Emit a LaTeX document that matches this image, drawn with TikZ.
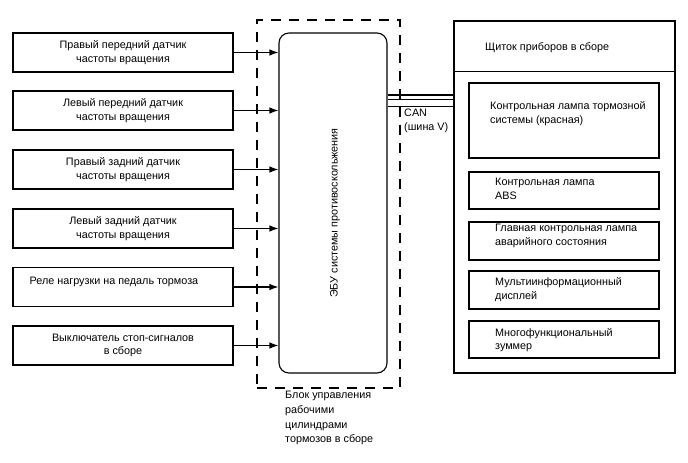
\documentclass[tikz,border=0pt]{standalone}
\usepackage{fontspec}
\setmainfont{Liberation Sans}
\usetikzlibrary{arrows.meta}
\begin{document}
\begin{tikzpicture}[x=1bp,y=-1bp,
  txt/.style={font=\fontsize{10.8bp}{13.5bp}\selectfont},
  sbox/.style={draw, line width=1.1bp, txt, align=center, inner sep=0pt, minimum width=220bp, minimum height=39bp},
  ibox/.style={draw, line width=1.1bp, inner sep=0pt, minimum width=190bp},
  ltxt/.style={txt, align=left, anchor=west, inner sep=0pt},
  arr/.style={-{Latex[length=9bp,width=6.5bp]}, line width=1.1bp},
  canline/.style={line width=1.3bp}]
\useasboundingbox (0,0) rectangle (688,463);

% dashed block
\node[draw, line width=1.1bp, dash pattern=on 10bp off 8bp, minimum width=143bp, minimum height=368bp, inner sep=0pt] (blk) at (328.5,204) {};
% ECU
\node[draw, line width=1.1bp, rounded corners=10bp, minimum width=108bp, minimum height=340bp, inner sep=0pt] (ecu) at (333,203) {};
\node[txt, rotate=90, inner sep=0pt] (ecut) at (335,213) {ЭБУ системы противоскольжения};
\node[align=left, anchor=north west, inner sep=0pt, font=\fontsize{10.8bp}{14.7bp}\selectfont] (blkl) at (285,391) {Блок управления\\рабочими\\цилиндрами\\тормозов в сборе};

% sensors
\node[sbox] (s1) at (123,52.5) {Правый передний датчик\\частоты вращения};
\node[sbox] (s2) at (123,110.5) {Левый передний датчик\\частоты вращения};
\node[sbox] (s3) at (123,169.5) {Правый задний датчик\\частоты вращения};
\node[sbox] (s4) at (123,228.5) {Левый задний датчик\\частоты вращения};
\node[sbox] (s5) at (123,287) {};
\node[txt, inner sep=0pt] (s5t) at (114,282) {Реле нагрузки на педаль тормоза};
\node[sbox] (s6) at (123,345.5) {Выключатель стоп-сигналов\\в сборе};

\foreach \s in {s1,s2,s3,s4,s5,s6}
  \draw[arr] (\s.east) -- (\s.east -| ecu.west);

% instrument cluster
\node[draw, line width=1.1bp, minimum width=221bp, minimum height=352bp, inner sep=0pt] (outer) at (564.5,197) {};
\draw[line width=1.1bp] ([yshift=-51bp]outer.north west) coordinate (dl) -- ([yshift=-51bp]outer.north east) coordinate (dr);
\node[ltxt] (hdr) at (485,48) {Щиток приборов в сборе};

\node[ibox, minimum height=75bp] (ia) at (564,120.5) {};
\node[ltxt] (iat) at (490,113.5) {Контрольная лампа тормозной\\системы (красная)};
\node[ibox, minimum height=37bp] (ib) at (564,190.5) {};
\node[ltxt] (ibt) at (495,189) {Контрольная лампа\\ABS};
\node[ibox, minimum height=38bp] (ic) at (564,241) {};
\node[ltxt] (ict) at (495,236) {Главная контрольная лампа\\аварийного состояния};
\node[ibox, minimum height=38bp] (id) at (564,290) {};
\node[ltxt] (idt) at (495,289.5) {Мультиинформационный\\дисплей};
\node[ibox, minimum height=37bp] (ie) at (564,339.5) {};
\node[ltxt] (iet) at (495,340) {Многофункциональный\\зуммер};

% CAN bus
\foreach \yy in {95,99.3,106.7}
  \draw[canline] (ecu.east |- 0,\yy) -- (outer.west |- 0,\yy);
\node[ltxt] (can) at (404,121) {CAN\\(шина V)};
\end{tikzpicture}
\end{document}
